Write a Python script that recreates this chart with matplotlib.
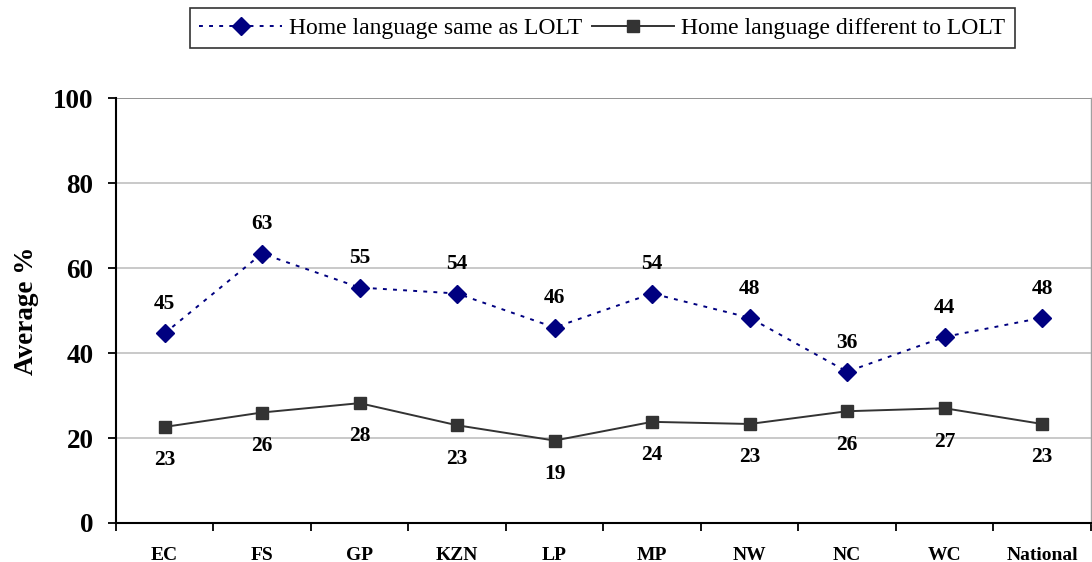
import numpy as np
from matplotlib import pyplot as plt
from matplotlib.ticker import FixedLocator

categories = ["EC", "FS", "GP", "KZN", "LP", "MP", "NW", "NC", "WC", "National"]
same_lolt = [44.6, 63.4, 55.4, 54.0, 46.0, 54.0, 48.3, 35.6, 43.8, 48.3]
diff_lolt = [22.6, 26.0, 28.2, 23.0, 19.4, 23.8, 23.3, 26.3, 27.0, 23.3]
yticks = [0, 20, 40, 60, 80, 100]

plt.rcParams['font.family'] = ['Liberation Serif', 'DejaVu Serif']

fig = plt.figure(figsize=(10.92, 5.62), dpi=100)
ax = fig.add_axes([0.106, 0.0694, 0.893, 0.7562])

x = np.arange(len(categories))
l1, = ax.plot(x, same_lolt, color="#000080", linestyle=(0, (2.0, 3.2)), linewidth=1.4,
              marker="D", markersize=9.5, markerfacecolor="#000080", markeredgecolor="#000080",
              label="Home language same as LOLT", zorder=3)
l2, = ax.plot(x, diff_lolt, color="#333333", linestyle="-", linewidth=1.4,
              marker="s", markersize=9, markerfacecolor="#333333", markeredgecolor="#333333",
              label="Home language different to LOLT", zorder=3)

for xi, v in zip(x, same_lolt):
    ax.annotate(f"{round(v):d}", (xi, v), xytext=(0, 21), textcoords="offset points",
                ha="center", va="center", fontsize=15.5, fontweight="bold")
for xi, v in zip(x, diff_lolt):
    ax.annotate(f"{round(v):d}", (xi, v), xytext=(0, -24), textcoords="offset points",
                ha="center", va="center", fontsize=15.5, fontweight="bold")

ax.set_xlim(-0.5, len(categories) - 0.5)
ax.set_ylim(0, 100)
ax.set_yticks(yticks)
ax.set_yticklabels([str(t) for t in yticks], fontsize=19.5, fontweight="bold")
ax.set_xticks(x)
ax.set_xticklabels(categories, fontsize=14, fontweight="bold")
ax.xaxis.set_minor_locator(FixedLocator(np.arange(-0.5, len(categories), 1.0)))
ax.tick_params(axis="x", which="major", length=0, pad=17)
ax.tick_params(axis="x", which="minor", length=6, width=1.3, direction="out")
ax.tick_params(axis="y", length=6, width=1.3, pad=10)

for t in yticks[1:]:
    ax.axhline(t, color="#808080" if t == 100 else "#c0c0c0", linewidth=1.2, zorder=1)

ax.spines["top"].set_visible(False)
ax.spines["right"].set_color("#a0a0a0")
ax.spines["right"].set_linewidth(1.0)
ax.spines["left"].set_linewidth(1.5)
ax.spines["bottom"].set_linewidth(1.5)

ax.set_ylabel("Average %", fontsize=19.5, fontweight="bold", labelpad=10)

leg = fig.legend(handles=[l1, l2], loc="upper right", bbox_to_anchor=(0.9295, 0.9858),
                 ncol=2, fontsize=17, frameon=True, fancybox=False, edgecolor="black",
                 handlelength=3.5, handletextpad=0.3, columnspacing=0.4, borderpad=0.4,
                 borderaxespad=0)
leg.get_frame().set_linewidth(1.2)
for h in leg.legend_handles:
    h.set_markersize(9)

fig.savefig("out.png", dpi=100)
